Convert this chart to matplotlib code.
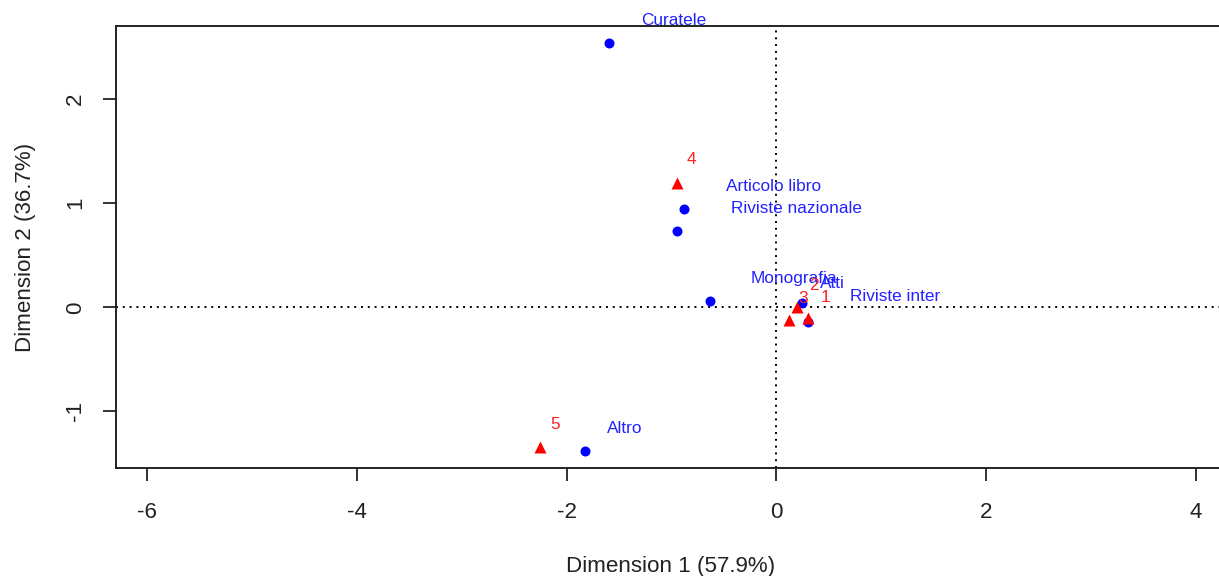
# coding:utf-8
import matplotlib
matplotlib.use("Agg")
import matplotlib.pyplot as plt

plt.rcParams['font.family'] = ['Liberation Sans', 'DejaVu Sans']

# column profiles (publication types)
col_names = ["Curatele", "Articolo libro", "Riviste nazionale", "Monografia",
             "Atti", "Riviste inter", "Altro"]
col_dim1 = [-1.594, -0.876, -0.943, -0.631, 0.243, 0.306, -1.826]
col_dim2 = [2.539, 0.941, 0.733, 0.061, 0.038, -0.138, -1.380]

# row profiles
row_names = ["1", "2", "3", "4", "5"]
row_dim1 = [0.306, 0.195, 0.125, -0.949, -2.252]
row_dim2 = [-0.106, 0.006, -0.122, 1.197, -1.339]

inertia = [57.9, 36.7]

# label offsets in pixels (right, up)
col_offsets = {"Curatele": (32, 22), "Articolo libro": (42, 22.6),
               "Riviste nazionale": (54, 22), "Monografia": (40, 22.7),
               "Atti": (18, 20), "Riviste inter": (42, 25), "Altro": (22, 22.7)}
row_offsets = {"1": (12, 21), "2": (12, 21), "3": (9, 21),
               "4": (10, 22.7), "5": (10, 21.7)}

W, H, DPI = 1219, 576, 100
PX = 72.0 / DPI


def __main():
    fig = plt.figure(figsize=(W / DPI, H / DPI), dpi=DPI)
    ax = fig.add_axes([115.7 / W, 1 - 468.3 / H, (W * 1.005 - 115.7) / W,
                       (468.3 - 26) / H])

    ax.set_xlim(-6.30, (W * 1.005 - 776.2) / 104.9)
    ax.set_ylim(-1.547, 2.702)

    ax.axhline(0, color="black", lw=1.4, ls=(0, (1, 2.5)), zorder=1)
    ax.axvline(0, color="black", lw=1.4, ls=(0, (1, 2.5)), zorder=1)

    ax.plot(col_dim1, col_dim2, "o", color="#0000FF", ms=7.2, mec="none",
            zorder=3)
    ax.plot(row_dim1, row_dim2, "^", color="#FF0000", ms=8.5, mec="none",
            zorder=3)

    for name, x, y in zip(col_names, col_dim1, col_dim2):
        dx, dy = col_offsets[name]
        ax.annotate(name, (x, y), xytext=(dx * PX, dy * PX),
                    textcoords="offset points", ha="left", va="center",
                    color="#2222FF", fontsize=12.4)
    for name, x, y in zip(row_names, row_dim1, row_dim2):
        dx, dy = row_offsets[name]
        ax.annotate(name, (x, y), xytext=(dx * PX, dy * PX),
                    textcoords="offset points", ha="left", va="center",
                    color="#FF2222", fontsize=12.4)

    ax.set_xticks([-6, -4, -2, 0, 2, 4])
    ax.set_yticks([-1, 0, 1, 2])
    ax.set_xticklabels(["-6", "-4", "-2", "0", "2", "4"])
    ax.set_yticklabels(["-1", "0", "1", "2"], rotation=90, va="center")
    ax.tick_params(length=13 * PX, width=1.3, color="#222222",
                   labelsize=16.1, labelcolor="#222222")
    ax.tick_params(axis="x", pad=15)
    ax.tick_params(axis="y", pad=12)

    for side in ax.spines:
        ax.spines[side].set_linewidth(1.4)
        ax.spines[side].set_color("#222222")

    ax.set_xlabel("Dimension 1 (%.1f%%)" % inertia[0], fontsize=16.1,
                  color="#222222", labelpad=24)
    ax.set_ylabel("Dimension 2 (%.1f%%)" % inertia[1], fontsize=16.1,
                  color="#222222", labelpad=21)

    fig.savefig("out.png", dpi=DPI)


if __name__ == "__main__":
    __main()
